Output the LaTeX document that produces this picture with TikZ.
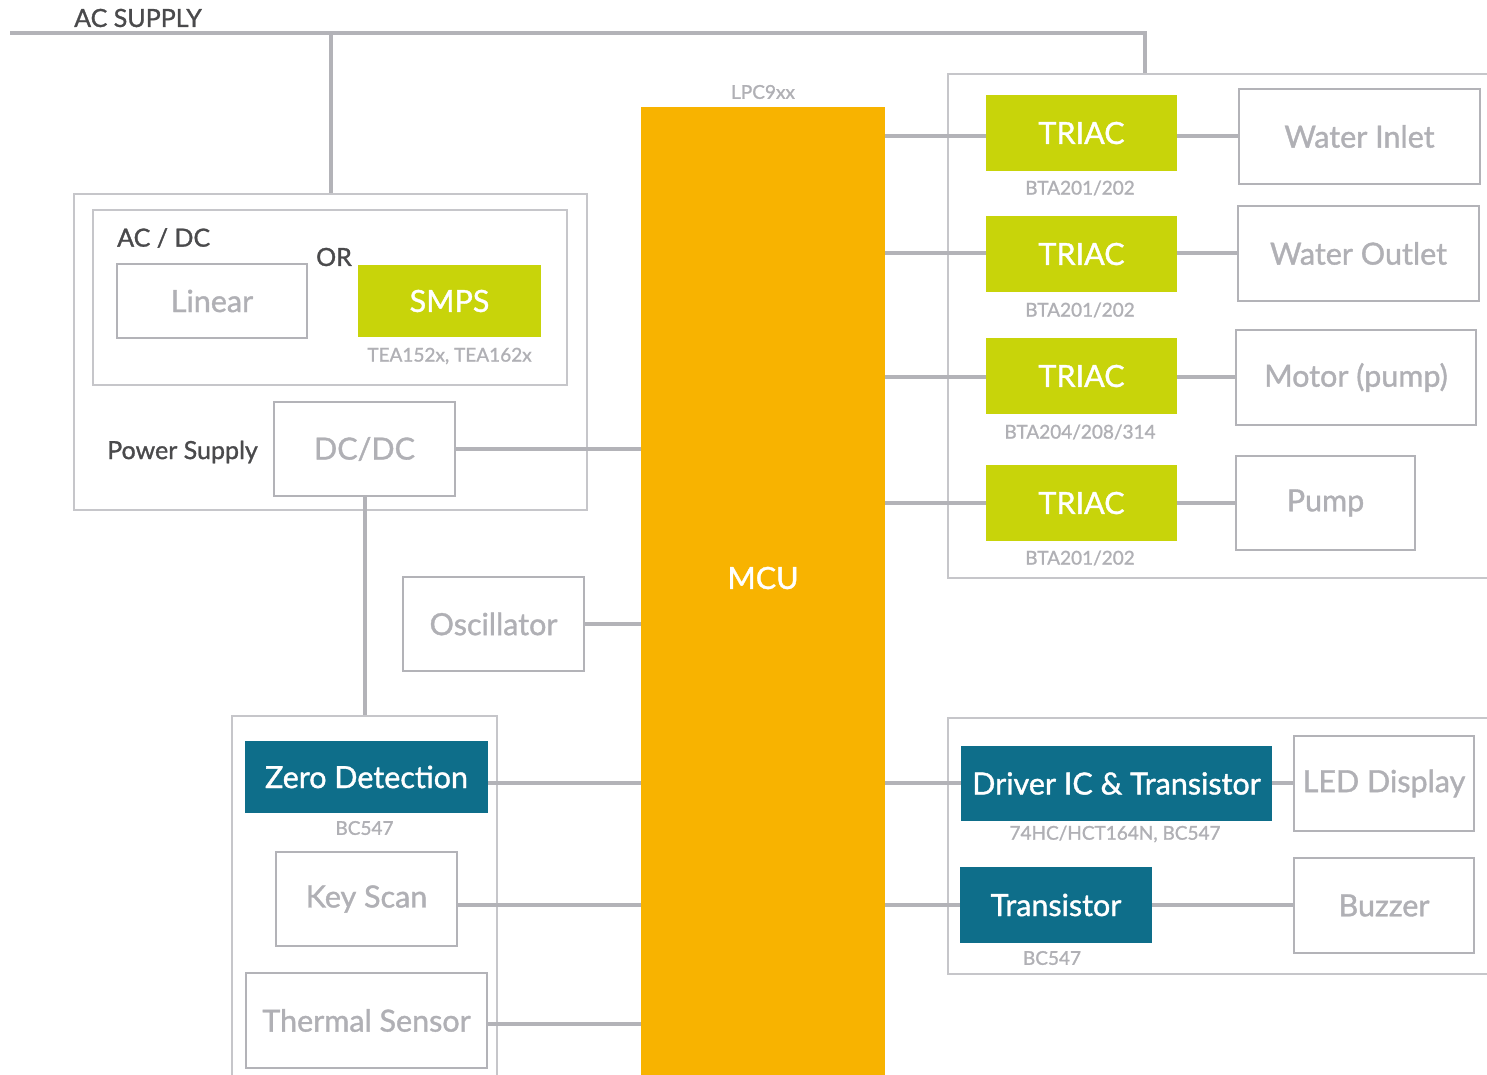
\documentclass[tikz,border=0pt]{standalone}
\usepackage{fontspec}
\setmainfont{Lato}
\newfontfamily\lmed{Lato}[FakeBold=1.2]
\definecolor{linegray}{HTML}{B3B3B8}
\definecolor{grpgray}{HTML}{C6C6CA}
\definecolor{txtgray}{HTML}{B0B0B5}
\definecolor{darktxt}{HTML}{4A4A4C}
\definecolor{triacgreen}{HTML}{C8D40A}
\definecolor{tealblue}{HTML}{0E6E8A}
\definecolor{mcuorange}{HTML}{F8B300}
\begin{document}
\begin{tikzpicture}[x=1pt,y=-1pt,
  conn/.style={draw=linegray, line width=4pt},
  grp/.style={draw=grpgray, line width=1.6pt, inner sep=0pt},
  devbox/.style={draw=linegray, line width=2.6pt, text=txtgray, inner sep=0pt, font=\lmed\fontsize{30.5}{36}\selectfont},
  greenbox/.style={fill=triacgreen, text=white, inner sep=0pt, font=\lmed\fontsize{30.5}{36}\selectfont},
  tealbox/.style={fill=tealblue, text=white, inner sep=0pt, font=\lmed\fontsize{30.5}{36}\selectfont},
  partlbl/.style={text=txtgray, inner sep=0pt, font=\lmed\fontsize{19}{22}\selectfont},
  darklbl/.style={text=darktxt, inner sep=0pt, font=\lmed\fontsize{25}{30}\selectfont},
  sz/.style 2 args={minimum width=#1pt, minimum height=#2pt}
]
\clip (0,0) rectangle (1487,1075);
\fill[white] (0,0) rectangle (1487,1075);

% group boxes
\node[grp, sz={513}{316}] (ps) at (330.5,352) {};
\node[grp, sz={474}{175}] (acdc) at (330,297.5) {};
\node[grp, sz={265}{380}] (llg) at (364.5,906) {};
\node[grp, sz={560}{504}] (rtg) at (1228,326) {};
\node[grp, sz={560}{256}] (rbg) at (1228,846) {};

% MCU
\node[fill=mcuorange, sz={244}{990}, inner sep=0pt] (mcu) at (763,602) {};
\node[text=white, font=\lmed\fontsize{30.5}{36}\selectfont, inner sep=0pt] (mcut) at (763,578) {MCU};
\node[partlbl] (lpc) at (763,92) {LPC9xx};

% AC supply
\node[darklbl, anchor=west] (acsup) at (74,18) {AC SUPPLY};
\coordinate (acs) at (10,33);
\coordinate (tap) at (1145,33);
\draw[conn] (acs) -- (tap) -- (tap |- rtg.north);
\draw[conn] (ps.north |- acs) -- (ps.north);

% power supply contents
\node[darklbl, anchor=west] (acdct) at (117,238) {AC / DC};
\node[darklbl] (ort) at (334,257) {OR};
\node[devbox, sz={190}{74}] (lin) at (212,301) {Linear};
\node[greenbox, sz={183}{72}] (smps) at (449.5,301) {SMPS};
\node[partlbl] (tea) at (449.5,356) {TEA152x, TEA162x};
\node[darklbl] (pst) at (182.5,452) {Power Supply};
\node[devbox, sz={181}{94}] (dcdc) at (364.5,449) {DC/DC};

% oscillator
\node[devbox, sz={181}{94}] (osc) at (493.5,624) {Oscillator};

% lower left
\node[tealbox, sz={243}{72}] (zd) at (366.5,777) {Zero Detection};
\node[partlbl] (zdp) at (364.5,828) {BC547};
\node[devbox, sz={181}{94}] (ks) at (366.5,899) {Key Scan};
\node[devbox, sz={241}{95}] (ts) at (366.5,1020.5) {Thermal Sensor};

% right top
\node[greenbox, sz={191}{76}] (t1) at (1081.5,133) {TRIAC};
\node[partlbl] (t1p) at (1080,188) {BTA201/202};
\node[devbox, sz={241}{95}] (wi) at (1359.5,136.5) {Water Inlet};
\node[greenbox, sz={191}{76}] (t2) at (1081.5,254) {TRIAC};
\node[partlbl] (t2p) at (1080,310) {BTA201/202};
\node[devbox, sz={241}{95}] (wo) at (1358.5,253.5) {Water Outlet};
\node[greenbox, sz={191}{76}] (t3) at (1081.5,376) {TRIAC};
\node[partlbl] (t3p) at (1080,432) {BTA204/208/314};
\node[devbox, sz={240}{95}] (mo) at (1356,377.5) {Motor (pump)};
\node[greenbox, sz={191}{76}] (t4) at (1081.5,503) {TRIAC};
\node[partlbl] (t4p) at (1080,558) {BTA201/202};
\node[devbox, sz={179}{94}] (pu) at (1325.5,503) {Pump};

% right bottom
\node[tealbox, sz={311}{75}] (drv) at (1116.5,783.5) {Driver IC \& Transistor};
\node[partlbl] (drvp) at (1115,834) {74HC/HCT164N, BC547};
\node[devbox, sz={180}{95}] (led) at (1384,783.5) {LED Display};
\node[tealbox, sz={192}{76}] (tr) at (1056,905) {Transistor};
\node[partlbl] (trp) at (1052,958) {BC547};
\node[devbox, sz={180}{95}] (bz) at (1384,905.5) {Buzzer};

% connector levels
\coordinate (y1) at (0,136);
\coordinate (y2) at (0,253);
\coordinate (y3) at (0,377);
\coordinate (y4) at (0,503);
\coordinate (yz) at (0,783);
\coordinate (yk) at (0,905);
\coordinate (yt) at (0,1024);

\draw[conn] (dcdc.east) -- (mcu.west |- dcdc.east);
\draw[conn] (dcdc.south) -- (llg.north);
\draw[conn] (osc.east) -- (mcu.west |- osc.east);
\draw[conn] (zd.east |- yz) -- (mcu.west |- yz);
\draw[conn] (ks.east |- yk) -- (mcu.west |- yk);
\draw[conn] (ts.east |- yt) -- (mcu.west |- yt);

\draw[conn] (mcu.east |- y1) -- (t1.west |- y1);
\draw[conn] (t1.east |- y1) -- (wi.west |- y1);
\draw[conn] (mcu.east |- y2) -- (t2.west |- y2);
\draw[conn] (t2.east |- y2) -- (wo.west |- y2);
\draw[conn] (mcu.east |- y3) -- (t3.west |- y3);
\draw[conn] (t3.east |- y3) -- (mo.west |- y3);
\draw[conn] (mcu.east |- y4) -- (t4.west |- y4);
\draw[conn] (t4.east |- y4) -- (pu.west |- y4);

\draw[conn] (mcu.east |- yz) -- (drv.west |- yz);
\draw[conn] (drv.east |- yz) -- (led.west |- yz);
\draw[conn] (mcu.east |- yk) -- (tr.west |- yk);
\draw[conn] (tr.east |- yk) -- (bz.west |- yk);
\end{tikzpicture}
\end{document}
